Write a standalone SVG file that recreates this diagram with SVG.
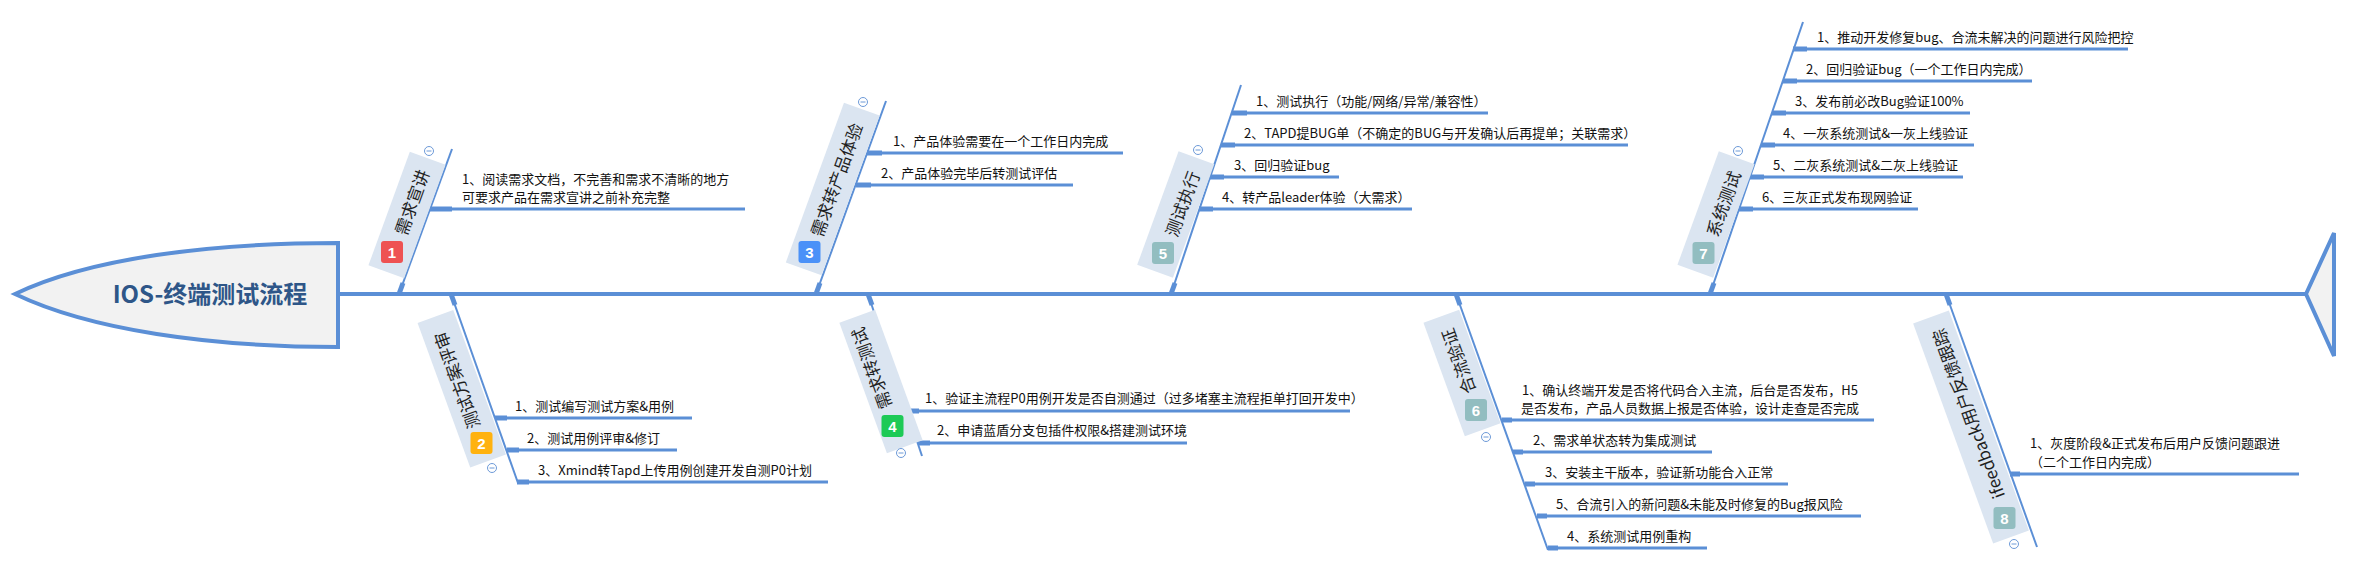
<svg xmlns="http://www.w3.org/2000/svg" width="2354" height="572" viewBox="0 0 2354 572">
<style>
.bone{stroke:#5b8fd6;stroke-width:2;fill:none}
.stub{stroke:#5b8fd6;stroke-width:5;fill:none}
.sub{stroke:#5b8fd6;stroke-width:3;fill:none}
.box{fill:#dbe5f1}
.lt{font-family:"Noto Sans CJK SC","Liberation Sans",sans-serif;font-size:17px;fill:#1f1f1f;text-anchor:middle}
.st{font-family:"Noto Sans CJK SC","Liberation Sans",sans-serif;font-size:13px;fill:#111}
.bn{font-family:"Liberation Sans",sans-serif;font-weight:bold;font-size:15px;fill:#fff;text-anchor:middle}
.col{fill:#fff;stroke:#6d9ad8;stroke-width:1}
.colm{stroke:#6d9ad8;stroke-width:1}
</style>
<rect width="2354" height="572" fill="#ffffff"/>
<g id="connectors">
  <line x1="338" y1="294" x2="2306" y2="294" stroke="#5b8fd6" stroke-width="4"/>
  <line class="bone" x1="452" y1="149" x2="399" y2="294"/><line class="stub" x1="399" y1="294" x2="403" y2="283"/>
  <line class="bone" x1="886" y1="101" x2="816" y2="294"/><line class="stub" x1="816" y1="294" x2="820" y2="283"/>
  <line class="bone" x1="1241" y1="85" x2="1171" y2="294"/><line class="stub" x1="1171" y1="294" x2="1175" y2="283"/>
  <line class="bone" x1="1803" y1="22" x2="1710" y2="294"/><line class="stub" x1="1710" y1="294" x2="1714" y2="283"/>
  <line class="bone" x1="451" y1="294" x2="518" y2="483"/><line class="stub" x1="451" y1="294" x2="455" y2="305"/>
  <line class="bone" x1="868" y1="294" x2="922" y2="456"/><line class="stub" x1="868" y1="294" x2="872" y2="305"/>
  <line class="bone" x1="1456" y1="294" x2="1548" y2="550"/><line class="stub" x1="1456" y1="294" x2="1460" y2="305"/>
  <line class="bone" x1="1946" y1="294" x2="2037" y2="547"/><line class="stub" x1="1946" y1="294" x2="1950" y2="305"/>
  <!-- sub branches -->
  <line class="stub" x1="430" y1="209" x2="452" y2="209"/><line class="sub" x1="452" y1="209" x2="745" y2="209"/>
  <line class="stub" x1="495" y1="418" x2="507" y2="418"/><line class="sub" x1="507" y1="418" x2="692" y2="418"/>
  <line class="stub" x1="507" y1="450" x2="519" y2="450"/><line class="sub" x1="519" y1="450" x2="677" y2="450"/>
  <line class="stub" x1="517" y1="482" x2="529" y2="482"/><line class="sub" x1="529" y1="482" x2="828" y2="482"/>
  <line class="stub" x1="867" y1="153" x2="882" y2="153"/><line class="sub" x1="882" y1="153" x2="1123" y2="153"/>
  <line class="stub" x1="856" y1="185" x2="871" y2="185"/><line class="sub" x1="871" y1="185" x2="1073" y2="185"/>
  <line class="stub" x1="907" y1="411" x2="919" y2="411"/><line class="sub" x1="919" y1="411" x2="1350" y2="411"/>
  <line class="stub" x1="918" y1="443" x2="930" y2="443"/><line class="sub" x1="930" y1="443" x2="1187" y2="443"/>
  <line class="stub" x1="1232" y1="113" x2="1247" y2="113"/><line class="sub" x1="1247" y1="113" x2="1488" y2="113"/>
  <line class="stub" x1="1221" y1="145" x2="1235" y2="145"/><line class="sub" x1="1235" y1="145" x2="1628" y2="145"/>
  <line class="stub" x1="1210" y1="177" x2="1224" y2="177"/><line class="sub" x1="1224" y1="177" x2="1339" y2="177"/>
  <line class="stub" x1="1199" y1="209" x2="1213" y2="209"/><line class="sub" x1="1213" y1="209" x2="1412" y2="209"/>
  <line class="stub" x1="1502" y1="420" x2="1512" y2="420"/><line class="sub" x1="1512" y1="420" x2="1874" y2="420"/>
  <line class="stub" x1="1513" y1="452" x2="1523" y2="452"/><line class="sub" x1="1523" y1="452" x2="1712" y2="452"/>
  <line class="stub" x1="1525" y1="484" x2="1535" y2="484"/><line class="sub" x1="1535" y1="484" x2="1788" y2="484"/>
  <line class="stub" x1="1537" y1="516" x2="1547" y2="516"/><line class="sub" x1="1547" y1="516" x2="1861" y2="516"/>
  <line class="stub" x1="1548" y1="548" x2="1558" y2="548"/><line class="sub" x1="1558" y1="548" x2="1707" y2="548"/>
  <line class="stub" x1="1793" y1="49" x2="1807" y2="49"/><line class="sub" x1="1807" y1="49" x2="2128" y2="49"/>
  <line class="stub" x1="1783" y1="81" x2="1797" y2="81"/><line class="sub" x1="1797" y1="81" x2="2032" y2="81"/>
  <line class="stub" x1="1772" y1="113" x2="1786" y2="113"/><line class="sub" x1="1786" y1="113" x2="1970" y2="113"/>
  <line class="stub" x1="1761" y1="145" x2="1775" y2="145"/><line class="sub" x1="1775" y1="145" x2="1974" y2="145"/>
  <line class="stub" x1="1750" y1="177" x2="1764" y2="177"/><line class="sub" x1="1764" y1="177" x2="1963" y2="177"/>
  <line class="stub" x1="1739" y1="209" x2="1753" y2="209"/><line class="sub" x1="1753" y1="209" x2="1918" y2="209"/>
  <line class="stub" x1="2010" y1="474" x2="2020" y2="474"/><line class="sub" x1="2020" y1="474" x2="2299" y2="474"/>
</g>
<g id="head">
  <path d="M338,243 C210,243 90,258 15,294 C90,330 210,347 338,347 Z" fill="#f2f2f2" stroke="#5b8fd6" stroke-width="4"/>
  <text x="210" y="303" font-family="'Noto Sans CJK SC','Liberation Sans',sans-serif" font-weight="bold" font-size="24" fill="#2e5688" text-anchor="middle">IOS-终端测试流程</text>
</g>
<g id="tail">
  <polygon points="2306,294 2334,233 2334,356" fill="#f2f2f2" stroke="#5b8fd6" stroke-width="4" stroke-linejoin="miter"/>
</g>

<g id="node1">
  <rect class="box" x="-60.5" y="-19" width="121" height="38" transform="translate(407,215) rotate(-70)"/>
  <text class="lt" transform="translate(412.5,202.5) rotate(-70)" dy="6">需求宣讲</text>
  <rect x="381" y="241" width="22" height="22" rx="3" fill="#ee5253"/><text class="bn" x="392" y="257.5">1</text>
  <circle class="col" cx="429" cy="151" r="4.5"/><line class="colm" x1="426.5" y1="151" x2="431.5" y2="151"/>
  <text class="st" x="462" y="184">1、阅读需求文档，不完善和需求不清晰的地方</text>
  <text class="st" x="462" y="202">可要求产品在需求宣讲之前补充完整</text>
</g>
<g id="node2">
  <rect class="box" x="-77" y="-19" width="154" height="38" transform="translate(461.75,388.75) rotate(-110)"/>
  <text class="lt" transform="translate(457.5,380) rotate(-110)" dy="6">测试方案评审</text>
  <rect x="470.5" y="432" width="22" height="22" rx="3" fill="#ffb20f"/><text class="bn" x="481.5" y="448.5">2</text>
  <circle class="col" cx="492" cy="468" r="4.5"/><line class="colm" x1="489.5" y1="468" x2="494.5" y2="468"/>
  <text class="st" x="515" y="411">1、测试编写测试方案&amp;用例</text>
  <text class="st" x="527" y="443">2、测试用例评审&amp;修订</text>
  <text class="st" x="538" y="475">3、Xmind转Tapd上传用例创建开发自测P0计划</text>
</g>
<g id="node3">
  <rect class="box" x="-85" y="-19" width="170" height="38" transform="translate(832.75,189) rotate(-70)"/>
  <text class="lt" transform="translate(837,180) rotate(-70)" dy="6">需求转产品体验</text>
  <rect x="798.5" y="241" width="22" height="22" rx="3" fill="#4a91f8"/><text class="bn" x="809.5" y="257.5">3</text>
  <circle class="col" cx="863" cy="102" r="4.5"/><line class="colm" x1="860.5" y1="102" x2="865.5" y2="102"/>
  <text class="st" x="893" y="146">1、产品体验需要在一个工作日内完成</text>
  <text class="st" x="881" y="178">2、产品体验完毕后转测试评估</text>
</g>
<g id="node4">
  <rect class="box" x="-69.5" y="-19" width="139" height="38" transform="translate(881,381.5) rotate(-110)"/>
  <text class="lt" transform="translate(872,368) rotate(-110)" dy="6">需求转测试</text>
  <rect x="881.5" y="415" width="22" height="22" rx="3" fill="#1dca56"/><text class="bn" x="892.5" y="431.5">4</text>
  <circle class="col" cx="901" cy="453" r="4.5"/><line class="colm" x1="898.5" y1="453" x2="903.5" y2="453"/>
  <text class="st" x="925" y="403">1、验证主流程P0用例开发是否自测通过（过多堵塞主流程拒单打回开发中）</text>
  <text class="st" x="937" y="435">2、申请蓝盾分支包插件权限&amp;搭建测试环境</text>
</g>
<g id="node5">
  <rect class="box" x="-60.5" y="-19" width="121" height="38" transform="translate(1175.75,214.5) rotate(-70)"/>
  <text class="lt" transform="translate(1183,204) rotate(-70)" dy="6">测试执行</text>
  <rect x="1152" y="242" width="22" height="22" rx="3" fill="#92bdc0"/><text class="bn" x="1163" y="258.5">5</text>
  <circle class="col" cx="1198" cy="150" r="4.5"/><line class="colm" x1="1195.5" y1="150" x2="1200.5" y2="150"/>
  <text class="st" x="1256" y="106">1、测试执行（功能/网络/异常/兼容性）</text>
  <text class="st" x="1244" y="138">2、TAPD提BUG单（不确定的BUG与开发确认后再提单；关联需求）</text>
  <text class="st" x="1234" y="170">3、回归验证bug</text>
  <text class="st" x="1222" y="202">4、转产品leader体验（大需求）</text>
</g>
<g id="node6">
  <rect class="box" x="-60.5" y="-19" width="121" height="38" transform="translate(1462,373) rotate(-110)"/>
  <text class="lt" transform="translate(1459,361) rotate(-110)" dy="6">合流验证</text>
  <rect x="1465" y="399" width="22" height="22" rx="3" fill="#92bdc0"/><text class="bn" x="1476" y="415.5">6</text>
  <circle class="col" cx="1486" cy="437" r="4.5"/><line class="colm" x1="1483.5" y1="437" x2="1488.5" y2="437"/>
  <text class="st" x="1522" y="395">1、确认终端开发是否将代码合入主流，后台是否发布，H5</text>
  <text class="st" x="1521" y="413">是否发布，产品人员数据上报是否体验，设计走查是否完成</text>
  <text class="st" x="1533" y="445">2、需求单状态转为集成测试</text>
  <text class="st" x="1545" y="477">3、安装主干版本，验证新功能合入正常</text>
  <text class="st" x="1556" y="509">5、合流引入的新问题&amp;未能及时修复的Bug报风险</text>
  <text class="st" x="1567" y="541">4、系统测试用例重构</text>
</g>
<g id="node7">
  <rect class="box" x="-60.5" y="-19" width="121" height="38" transform="translate(1716,214.5) rotate(-70)"/>
  <text class="lt" transform="translate(1724,204) rotate(-70)" dy="6">系统测试</text>
  <rect x="1692.5" y="242" width="22" height="22" rx="3" fill="#92bdc0"/><text class="bn" x="1703.5" y="258.5">7</text>
  <circle class="col" cx="1738" cy="151" r="4.5"/><line class="colm" x1="1735.5" y1="151" x2="1740.5" y2="151"/>
  <text class="st" x="1817" y="42">1、推动开发修复bug、合流未解决的问题进行风险把控</text>
  <text class="st" x="1806" y="74">2、回归验证bug（一个工作日内完成）</text>
  <text class="st" x="1795" y="106">3、发布前必改Bug验证100%</text>
  <text class="st" x="1783" y="138">4、一灰系统测试&amp;一灰上线验证</text>
  <text class="st" x="1773" y="170">5、二灰系统测试&amp;二灰上线验证</text>
  <text class="st" x="1762" y="202">6、三灰正式发布现网验证</text>
</g>
<g id="node8">
  <rect class="box" x="-117" y="-19" width="234" height="38" transform="translate(1971,427) rotate(-110)"/>
  <text class="lt" transform="translate(1969,413.5) rotate(-110)" dy="6">ifeedback用户反馈跟踪</text>
  <rect x="1993.5" y="507" width="22" height="22" rx="3" fill="#92bdc0"/><text class="bn" x="2004.5" y="523.5">8</text>
  <circle class="col" cx="2014" cy="544" r="4.5"/><line class="colm" x1="2011.5" y1="544" x2="2016.5" y2="544"/>
  <text class="st" x="2030" y="448">1、灰度阶段&amp;正式发布后用户反馈问题跟进</text>
  <text class="st" x="2030" y="467">（二个工作日内完成）</text>
</g>
</svg>
